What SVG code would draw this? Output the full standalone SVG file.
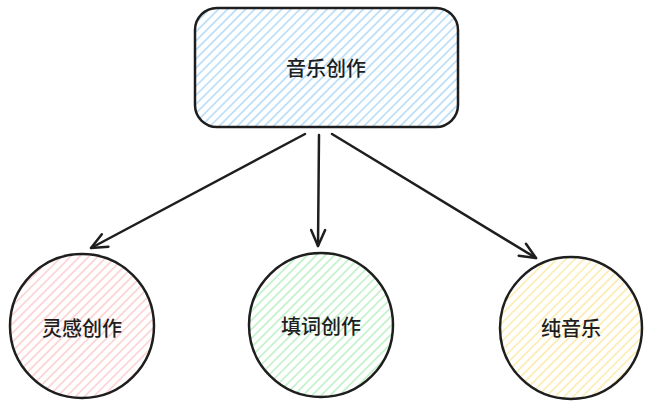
<svg xmlns="http://www.w3.org/2000/svg" width="648" height="409" viewBox="0 0 648 409">
<style>
.shape{stroke:#1e1e1e;stroke-width:2.5;stroke-linecap:round;stroke-linejoin:round}
.lbl{font-family:"Noto Sans CJK SC","Noto Sans",sans-serif;font-size:20px;font-weight:500;fill:#1e1e1e;text-anchor:middle;dominant-baseline:central}
.edge{fill:none;stroke:#1e1e1e;stroke-width:2.5;stroke-linecap:round;stroke-linejoin:round}
</style>
<defs>
<pattern id="hb" width="6.4" height="6.4" patternUnits="userSpaceOnUse" patternTransform="rotate(45)"><line x1="1" y1="0" x2="1" y2="6.4" stroke="#9dd0f5" stroke-width="1.2"/></pattern>
<pattern id="hp" width="6.4" height="6.4" patternUnits="userSpaceOnUse" patternTransform="rotate(45)"><line x1="1" y1="0" x2="1" y2="6.4" stroke="#fbc0c0" stroke-width="1.2"/></pattern>
<pattern id="hg" width="6.4" height="6.4" patternUnits="userSpaceOnUse" patternTransform="rotate(45)"><line x1="1" y1="0" x2="1" y2="6.4" stroke="#a9ebb3" stroke-width="1.2"/></pattern>
<pattern id="hy" width="6.4" height="6.4" patternUnits="userSpaceOnUse" patternTransform="rotate(45)"><line x1="1" y1="0" x2="1" y2="6.4" stroke="#fbe592" stroke-width="1.2"/></pattern>
<marker id="ah" viewBox="0 0 20 20" refX="18" refY="10" markerWidth="20" markerHeight="20" markerUnits="userSpaceOnUse" orient="auto"><path d="M2 3 L18 10 L2 17" fill="none" stroke="#1e1e1e" stroke-width="2.5" stroke-linecap="round" stroke-linejoin="round"/></marker>
</defs>
<rect width="648" height="409" fill="#ffffff"/>
<g id="edges">
<path class="edge" d="M305 134 L91 248" marker-end="url(#ah)"/>
<path class="edge" d="M319 135 L318 246" marker-end="url(#ah)"/>
<path class="edge" d="M332 134 L536 258" marker-end="url(#ah)"/>
</g>
<g id="node-root">
<rect class="shape" x="195" y="8" width="263" height="119" rx="22" fill="url(#hb)"/>
<text class="lbl" x="326" y="67">音乐创作</text>
</g>
<g id="node-inspiration">
<circle class="shape" cx="82" cy="326" r="72" fill="url(#hp)"/>
<text class="lbl" x="82" y="327">灵感创作</text>
</g>
<g id="node-lyrics">
<circle class="shape" cx="321" cy="325" r="72" fill="url(#hg)"/>
<text class="lbl" x="321" y="325">填词创作</text>
</g>
<g id="node-music">
<circle class="shape" cx="571" cy="328" r="71" fill="url(#hy)"/>
<text class="lbl" x="571" y="327">纯音乐</text>
</g>
</svg>
